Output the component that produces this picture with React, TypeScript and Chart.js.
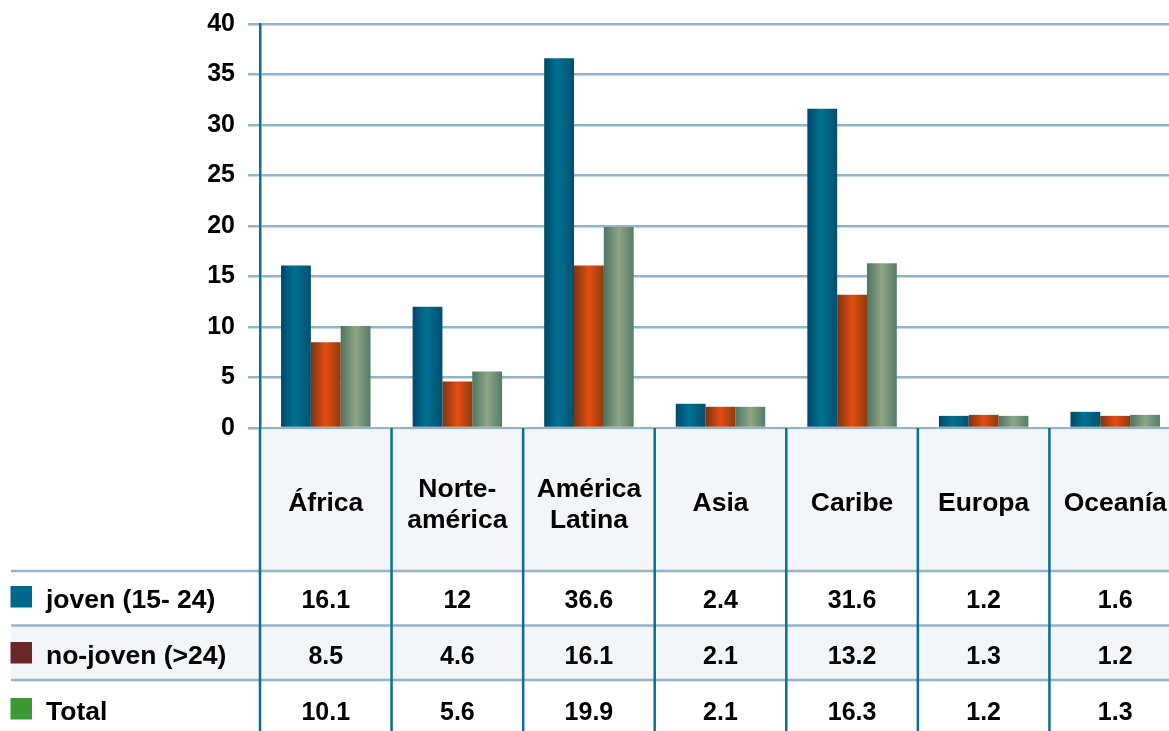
import { useEffect, useRef } from 'react';
import { Chart, registerables } from 'chart.js';

Chart.register(...registerables);

// ---- data ----
const categories = ['África', 'Norteamérica', 'América Latina', 'Asia', 'Caribe', 'Europa', 'Oceanía'];
const categoryLines = [['África'], ['Norte-', 'américa'], ['América', 'Latina'], ['Asia'], ['Caribe'], ['Europa'], ['Oceanía']];
const seriesNames = ['joven (15- 24)', 'no-joven (>24)', 'Total'];
const joven = [16.1, 12, 36.6, 2.4, 31.6, 1.2, 1.6];
const noJoven = [8.5, 4.6, 16.1, 2.1, 13.2, 1.3, 1.2];
const total = [10.1, 5.6, 19.9, 2.1, 16.3, 1.2, 1.3];
const yMin = 0;
const yMax = 40;
const yStep = 5;

// ---- styles ----
const FONT = '"Liberation Sans", Arial, Helvetica, sans-serif';
const CAT_PCT = 0.68;
const GRID = '#93b4c8';
const AXIS = '#0b6f91';
const CELL_BG = '#f2f6f9';
const barStops: [number, string][][] = [
  [[0, '#00486a'], [0.45, '#00718f'], [1, '#004f70']],
  [[0, '#7a3412'], [0.5, '#e64d10'], [1, '#8c3b10']],
  [[0, '#4e7462'], [0.5, '#8fa584'], [1, '#557c69']],
];
const barSolid = ['#00698b', '#e24c10', '#8aa282'];
const legendColors = ['#00688a', '#6b2828', '#3b9a37'];

const makeBg = (di: number) => (c: any) => {
  const chart = c.chart;
  const area = chart.chartArea;
  const xs = chart.scales && chart.scales.x;
  if (c.type !== 'data' || !area || !xs) return barSolid[di];
  const colW = (area.right - area.left) / categories.length;
  const bw = (colW * CAT_PCT) / 3;
  const cx = xs.getPixelForValue(c.dataIndex);
  const l = cx + (di - 1.5) * bw;
  const g = chart.ctx.createLinearGradient(l, 0, l + bw, 0);
  barStops[di].forEach(([o, col]) => g.addColorStop(o, col));
  return g;
};

const tablePlugin = {
  id: 'dataTable',
  afterDraw(chart: any) {
    const { ctx, chartArea } = chart;
    const n = categories.length;
    const left = chartArea.left;
    const right = chartArea.right;
    const top0 = chartArea.bottom;
    const W = chart.width;
    const H = chart.height;
    const colW = (right - left) / n;
    const headerBottom = top0 + 143;
    const rowTops = [headerBottom, headerBottom + 54.5, headerBottom + 109];
    const baselines = [608, 664, 720];
    const series = [joven, noJoven, total];

    ctx.save();
    // backgrounds
    ctx.fillStyle = CELL_BG;
    ctx.fillRect(left, top0 + 1.25, right - left, headerBottom - top0 - 1.25);
    ctx.fillRect(11, rowTops[1], W - 11, 54.5);

    // horizontal lines
    ctx.strokeStyle = GRID;
    ctx.lineWidth = 2.5;
    rowTops.forEach((y) => {
      ctx.beginPath();
      ctx.moveTo(11, y);
      ctx.lineTo(W, y);
      ctx.stroke();
    });

    // vertical lines
    ctx.strokeStyle = AXIS;
    ctx.lineWidth = 2.5;
    for (let i = 0; i <= n; i++) {
      const x = left + i * colW;
      ctx.beginPath();
      ctx.moveTo(x, top0);
      ctx.lineTo(x, H);
      ctx.stroke();
    }

    // text
    ctx.fillStyle = '#000';
    ctx.textAlign = 'center';
    ctx.textBaseline = 'alphabetic';
    ctx.font = `bold 26.5px ${FONT}`;
    categoryLines.forEach((lines, i) => {
      const cx = left + (i + 0.5) * colW;
      if (lines.length === 1) {
        ctx.fillText(lines[0], cx, 511);
      } else {
        ctx.fillText(lines[0], cx, 497);
        ctx.fillText(lines[1], cx, 528);
      }
    });
    ctx.font = `bold 25px ${FONT}`;
    series.forEach((vals, r) => {
      vals.forEach((v, i) => {
        const cx = left + (i + 0.5) * colW;
        ctx.fillText(String(v), cx, baselines[r]);
      });
    });

    // legend column
    ctx.textAlign = 'left';
    ctx.font = `bold 26.5px ${FONT}`;
    seriesNames.forEach((name, r) => {
      ctx.fillStyle = legendColors[r];
      ctx.fillRect(10.5, baselines[r] - 22, 21.5, 21.5);
      ctx.fillStyle = '#000';
      ctx.fillText(name, 46, baselines[r]);
    });
    ctx.restore();
  },
};

function App() {
  const ref = useRef<HTMLCanvasElement>(null);
  useEffect(() => {
    const canvas = ref.current;
    if (!canvas) return;
    const chart = new Chart(canvas, {
      type: 'bar',
      data: {
        labels: categories,
        datasets: [
          { label: seriesNames[0], data: joven, backgroundColor: makeBg(0) },
          { label: seriesNames[1], data: noJoven, backgroundColor: makeBg(1) },
          { label: seriesNames[2], data: total, backgroundColor: makeBg(2) },
        ],
      },
      options: {
        responsive: false,
        animation: false,
        datasets: { bar: { categoryPercentage: CAT_PCT, barPercentage: 1, borderWidth: 0 } },
        layout: { padding: { left: 0, right: 0, top: 24, bottom: 303 } },
        plugins: { legend: { display: false }, tooltip: { enabled: false } },
        scales: {
          x: { display: false },
          y: {
            min: yMin,
            max: yMax,
            afterFit: (s: any) => {
              s.width = 260;
              s.paddingTop = 0;
              s.paddingBottom = 0;
            },
            ticks: {
              stepSize: yStep,
              padding: 13,
              color: '#000',
              font: { family: FONT, size: 25, weight: 'bold' },
            },
            grid: { color: GRID, lineWidth: 2.5, tickLength: 12, drawTicks: true },
            border: { color: AXIS, width: 2.5 },
          },
        },
      },
      plugins: [tablePlugin],
    });
    return () => chart.destroy();
  }, []);
  return (
    <div
      style={{
        position: 'absolute',
        left: 0,
        top: 0,
        width: 1169,
        height: 731,
        overflow: 'hidden',
        background: '#fff',
      }}
    >
      <canvas ref={ref} width={1181} height={731} style={{ display: 'block', width: 1181, height: 731 }} />
    </div>
  );
}

export default App;
